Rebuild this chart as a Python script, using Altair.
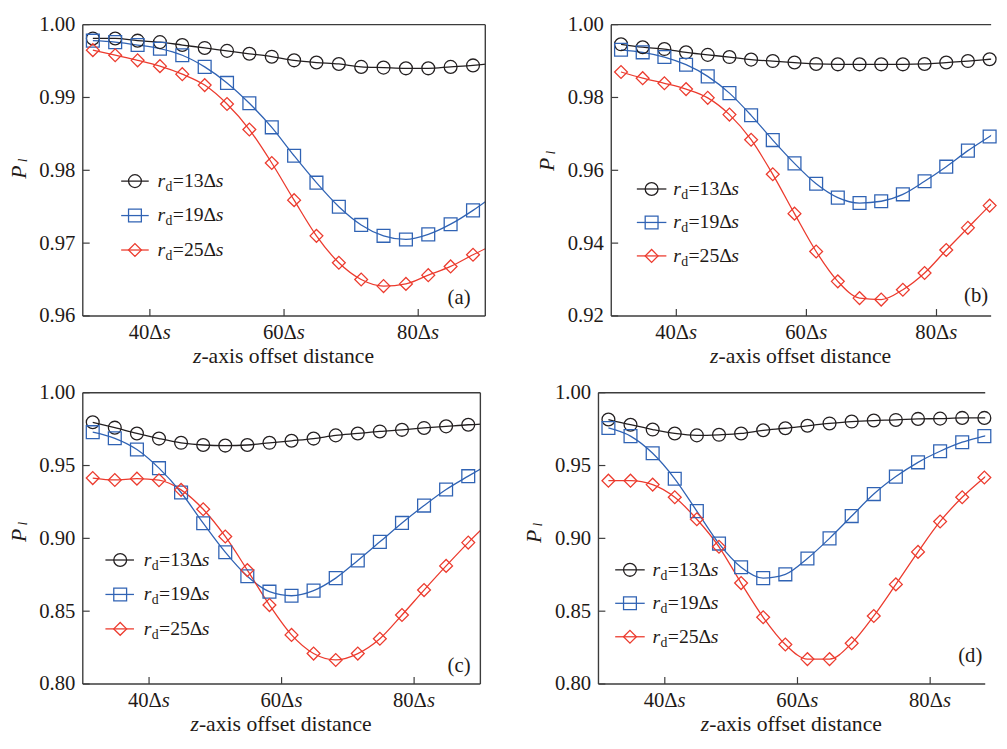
import altair as alt
import pandas as pd

FONT = "Liberation Serif"
INK = "#1f1a17"
FRAME = "#3c3c3c"

SERIES = ["13", "19", "25"]
SERIES_COLORS = ["#231f20", "#3063b4", "#ec3b2e"]
SERIES_SHAPES = ["circle", "square", "diamond"]
LEGEND_MID = ["=13Δ", "=19Δ", "=25Δ"]
LEGEND_R = "r"
LEGEND_SUB = "d"
LEGEND_S = "s"

X = [31.5, 34.83, 38.17, 41.5, 44.83, 48.17, 51.5, 54.83, 58.17, 61.5,
     64.83, 68.17, 71.5, 74.83, 78.17, 81.5, 84.83, 88.17, 91.5]

XTICKS = [40, 60, 80]
XTICK_TEXT = ["40Δ", "60Δ", "80Δ"]
XTICK_S = "s"
XTITLE_Z = "z"
XTITLE_REST = "-axis offset distance"
YTITLE_P = "P"
YTITLE_SUB = "l"
PANEL_NAMES = ["(a)", "(b)", "(c)", "(d)"]

YTICKS_A = [0.96, 0.97, 0.98, 0.99, 1.00]
YTICKS_B = [0.92, 0.94, 0.96, 0.98, 1.00]
YTICKS_C = [0.80, 0.85, 0.90, 0.95, 1.00]
YTICKS_D = [0.80, 0.85, 0.90, 0.95, 1.00]

A_13 = [0.9981, 0.9981, 0.9978, 0.9976, 0.9972, 0.9968, 0.9964, 0.9960, 0.9956, 0.9951,
        0.9948, 0.9946, 0.9942, 0.9941, 0.9940, 0.9940, 0.9942, 0.9944, 0.9947]
A_19 = [0.9978, 0.9976, 0.9972, 0.9967, 0.9958, 0.9942, 0.9920, 0.9892, 0.9859, 0.9820,
        0.9783, 0.9750, 0.9725, 0.9710, 0.9705, 0.9712, 0.9726, 0.9745, 0.9767]
A_25 = [0.9965, 0.9958, 0.9951, 0.9943, 0.9932, 0.9917, 0.9891, 0.9856, 0.9810, 0.9759,
        0.9710, 0.9673, 0.9650, 0.9641, 0.9644, 0.9656, 0.9668, 0.9684, 0.9699]

B_13 = [0.9946, 0.9938, 0.9933, 0.9924, 0.9917, 0.9911, 0.9904, 0.9900, 0.9896, 0.9892,
        0.9891, 0.9891, 0.9891, 0.9891, 0.9892, 0.9896, 0.9900, 0.9905, 0.9910]
B_19 = [0.9931, 0.9924, 0.9911, 0.9890, 0.9858, 0.9812, 0.9751, 0.9683, 0.9619, 0.9563,
        0.9525, 0.9510, 0.9515, 0.9534, 0.9570, 0.9610, 0.9654, 0.9693, 0.9733]
B_25 = [0.9870, 0.9853, 0.9839, 0.9823, 0.9799, 0.9753, 0.9684, 0.9589, 0.9481, 0.9377,
        0.9295, 0.9249, 0.9245, 0.9272, 0.9318, 0.9381, 0.9442, 0.9503, 0.9560]

C_13 = [0.9797, 0.9760, 0.9720, 0.9685, 0.9656, 0.9641, 0.9637, 0.9641, 0.9656, 0.9670,
        0.9685, 0.9707, 0.9720, 0.9734, 0.9745, 0.9758, 0.9769, 0.9780, 0.9788]
C_19 = [0.9729, 0.9687, 0.9610, 0.9482, 0.9315, 0.9104, 0.8905, 0.8740, 0.8634, 0.8606,
        0.8641, 0.8727, 0.8848, 0.8976, 0.9106, 0.9225, 0.9335, 0.9427, 0.9515]
C_25 = [0.9414, 0.9401, 0.9410, 0.9399, 0.9333, 0.9200, 0.9013, 0.8782, 0.8542, 0.8337,
        0.8209, 0.8165, 0.8209, 0.8311, 0.8474, 0.8645, 0.8811, 0.8971, 0.9120]

D_13 = [0.9816, 0.9780, 0.9747, 0.9720, 0.9707, 0.9711, 0.9720, 0.9742, 0.9756, 0.9773,
        0.9789, 0.9802, 0.9809, 0.9813, 0.9820, 0.9822, 0.9827, 0.9827, 0.9828]
D_19 = [0.9758, 0.9702, 0.9584, 0.9409, 0.9187, 0.8964, 0.8802, 0.8727, 0.8753, 0.8862,
        0.9000, 0.9153, 0.9304, 0.9424, 0.9522, 0.9598, 0.9660, 0.9702, 0.9740]
D_25 = [0.9396, 0.9396, 0.9369, 0.9282, 0.9131, 0.8942, 0.8693, 0.8458, 0.8271, 0.8171,
        0.8171, 0.8280, 0.8467, 0.8684, 0.8907, 0.9116, 0.9282, 0.9418, 0.9540]


def text_layer(df, field, x, y, size, italic=False, align="left", baseline="alphabetic",
               angle=0, dx=0, dy=0):
    kw = dict(font=FONT, fontSize=size, color=INK, align=align, baseline=baseline, dx=dx, dy=dy)
    if italic:
        kw["fontStyle"] = "italic"
    if angle:
        kw["angle"] = angle
    return alt.Chart(df).mark_text(**kw).encode(x=x, y=y, text=alt.Text(field + ":N"))


def panel(s13, s19, s25, yticks, xmax, name, W, H, leg, lab, pcy, right_frame):
    df = pd.DataFrame({
        "x": X * 3,
        "v": s13 + s19 + s25,
        "series": [s for s in SERIES for _ in X],
    })
    sx = alt.Scale(domain=[30, xmax], nice=False, zero=False)
    sy = alt.Scale(domain=[yticks[0], yticks[-1]], nice=False, zero=False)
    yax = alt.Axis(values=yticks, format=".2f", title=None, ticks=False, domain=False,
                   grid=False, labelFont=FONT, labelFontSize=21, labelColor=INK,
                   labelPadding=8, labelFlush=False, labelOverlap=False)
    XE = alt.X("x:Q", scale=sx, axis=None)
    YE = alt.Y("v:Q", scale=sy, axis=yax)
    col = alt.Color("series:N", scale=alt.Scale(domain=SERIES, range=SERIES_COLORS), legend=None)
    shp = alt.Shape("series:N", scale=alt.Scale(domain=SERIES, range=SERIES_SHAPES), legend=None)

    layers = []
    layers.append(alt.Chart(df).mark_line(clip=True, strokeWidth=1.3, interpolate="monotone")
                  .encode(x=XE, y=YE, color=col))
    layers.append(alt.Chart(df).transform_filter(alt.datum.x <= xmax + 0.6)
                  .mark_point(filled=False, size=170, strokeWidth=1.3, opacity=1)
                  .encode(x=XE, y=YE, color=col, shape=shp))

    # inward ticks
    layers.append(alt.Chart(pd.DataFrame({"v": yticks})).mark_rule(color=FRAME, strokeWidth=1.2)
                  .encode(y=YE, x=alt.value(0), x2=alt.value(7)))
    layers.append(alt.Chart(pd.DataFrame({"x": XTICKS})).mark_rule(color=FRAME, strokeWidth=1.2)
                  .encode(x=XE, y=alt.value(H), y2=alt.value(H - 7)))

    # frame
    fdf = pd.DataFrame({"k": [0]})
    def rule(**enc):
        return alt.Chart(fdf).mark_rule(color=FRAME, strokeWidth=1.4).encode(**enc)
    layers.append(rule(x=alt.value(0), y=alt.value(0), y2=alt.value(H)))
    layers.append(rule(x=alt.value(0), x2=alt.value(W), y=alt.value(0)))
    layers.append(rule(x=alt.value(0), x2=alt.value(W), y=alt.value(H)))
    if right_frame:
        layers.append(rule(x=alt.value(W), y=alt.value(0), y2=alt.value(H)))

    # x tick labels
    tdf = pd.DataFrame({"x": XTICKS, "t": XTICK_TEXT, "s": [XTICK_S] * len(XTICKS)})
    layers.append(text_layer(tdf, "t", XE, alt.value(H + 23), 21, align="right", dx=13))
    layers.append(text_layer(tdf, "s", XE, alt.value(H + 23), 21, italic=True, align="left", dx=13))

    # x title
    cx = W / 2
    split = cx - 84
    ttl = pd.DataFrame({"z": [XTITLE_Z], "r": [XTITLE_REST], "p": [YTITLE_P], "l": [YTITLE_SUB],
                        "n": [name]})
    layers.append(text_layer(ttl, "z", alt.value(split), alt.value(H + 48), 22, italic=True, align="right"))
    layers.append(text_layer(ttl, "r", alt.value(split), alt.value(H + 48), 22, align="left"))

    # y title
    layers.append(text_layer(ttl, "p", alt.value(-58), alt.value(pcy), 22, italic=True,
                             align="center", angle=270))
    layers.append(text_layer(ttl, "l", alt.value(-57), alt.value(pcy - 12), 12, italic=True,
                             align="center", angle=270))

    # panel label
    layers.append(text_layer(ttl, "n", alt.value(lab[0]), alt.value(lab[1]), 21, align="right"))

    # legend
    lx0, lx1, mx, tx, ly0, lgap = leg
    for i in range(3):
        yy = ly0 + i * lgap
        c = SERIES_COLORS[i]
        rdf = pd.DataFrame({"series": [SERIES[i]], "r": [LEGEND_R], "d": [LEGEND_SUB],
                            "m": [LEGEND_MID[i]], "s": [LEGEND_S]})
        layers.append(alt.Chart(rdf).mark_rule(color=c, strokeWidth=1.3)
                      .encode(x=alt.value(lx0), x2=alt.value(lx1), y=alt.value(yy)))
        layers.append(alt.Chart(rdf).mark_point(shape=SERIES_SHAPES[i], filled=False, size=170,
                                                strokeWidth=1.3, color=c, opacity=1)
                      .encode(x=alt.value(mx), y=alt.value(yy)))
        layers.append(text_layer(rdf, "r", alt.value(tx), alt.value(yy), 20, italic=True,
                                 baseline="middle"))
        layers.append(text_layer(rdf, "d", alt.value(tx + 8), alt.value(yy), 14,
                                 baseline="middle", dy=6))
        layers.append(text_layer(rdf, "m", alt.value(tx + 15.5), alt.value(yy), 20,
                                 baseline="middle"))
        layers.append(text_layer(rdf, "s", alt.value(tx + 59), alt.value(yy), 20, italic=True,
                                 baseline="middle"))

    return alt.layer(*layers).properties(width=W, height=H)


H = 296
pa = panel(A_13, A_19, A_25, YTICKS_A, 90, PANEL_NAMES[0], 409, H,
           (39, 67, 53, 76, 159, 35), (394, H - 12), 150, True)
pb = panel(B_13, B_19, B_25, YTICKS_B, 88.4, PANEL_NAMES[1], 386, H,
           (26, 56, 41, 63, 167, 34), (383, H - 14), 142, False)
pc = panel(C_13, C_19, C_25, YTICKS_C, 90, PANEL_NAMES[2], 404, H,
           (23, 52, 38, 62, 170, 35), (394, H - 12), 145, True)
pd_ = panel(D_13, D_19, D_25, YTICKS_D, 88.3, PANEL_NAMES[3], 393, H,
            (17, 47, 32, 55, 180, 34), (390, H - 22), 146, False)

chart = alt.vconcat(
    alt.hconcat(pa, pb, spacing=51),
    alt.hconcat(pc, pd_, spacing=43),
    spacing=15,
).properties(padding=0).configure_view(strokeWidth=0)

chart.save("out.html", embed_options={"renderer": "svg", "actions": False})
